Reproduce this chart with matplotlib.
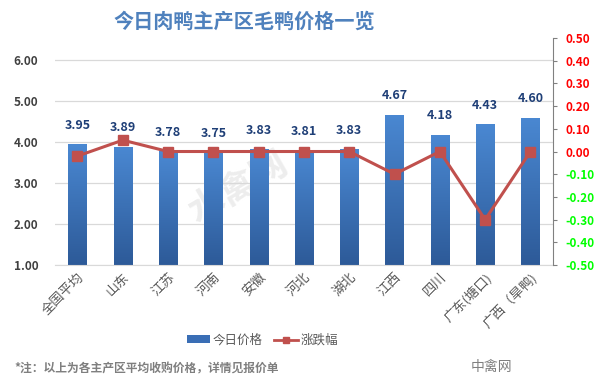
import matplotlib
matplotlib.use("Agg")
import matplotlib.pyplot as plt
import numpy as np
from matplotlib.colors import LinearSegmentedColormap
from matplotlib.patches import Patch
from matplotlib.lines import Line2D

plt.rcParams['font.family'] = ['Noto Sans CJK SC', 'DejaVu Sans']

categories = ['全国平均', '山东', '江苏', '河南', '安徽', '河北', '湖北', '江西', '四川', '广东(塘口)', '广西（旱鸭)']
prices = [3.95, 3.89, 3.78, 3.75, 3.83, 3.81, 3.83, 4.67, 4.18, 4.43, 4.60]
changes = [-0.02, 0.05, 0.00, 0.00, 0.00, 0.00, 0.00, -0.10, 0.00, -0.30, 0.00]
left_ticks = [1.0, 2.0, 3.0, 4.0, 5.0, 6.0]
right_ticks = [-0.5, -0.4, -0.3, -0.2, -0.1, 0.0, 0.1, 0.2, 0.3, 0.4, 0.5]

fig = plt.figure(figsize=(5.96, 3.92), dpi=100)

# faint watermark behind the chart
fig.text(0.40, 0.52, '水禽网', ha='center', va='center', fontsize=26, fontweight='bold',
         color='#EDEDED', rotation=30, zorder=-5)

ax = fig.add_axes([0.092, 0.324, 0.836, 0.579])
ax.patch.set_alpha(0)
ax2 = ax.twinx()

x = np.arange(len(categories))
bars = ax.bar(x, prices, width=0.4, color='#3A6EB5', zorder=2)
grad = np.linspace(0, 1, 256).reshape(-1, 1)
cmap = LinearSegmentedColormap.from_list('g', ['#2D5A98', '#4A88D2'])
for b in bars:
    bx, by = b.get_x(), b.get_y()
    w, h = b.get_width(), b.get_height()
    im = ax.imshow(grad, extent=[bx, bx + w, 1.0, by + h], origin='lower',
                   cmap=cmap, aspect='auto', zorder=2.1)
    im.set_clip_path(b)

for xi, p in zip(x, prices):
    ax.text(xi, p + 0.3, f'{p:.2f}', ha='center', va='bottom', fontsize=9,
            fontweight='bold', color='#1F3F77', zorder=5)

ax.set_xlim(-0.5, len(categories) - 0.5)
ax.set_ylim(1.0, 6.54)
ax.set_yticks(left_ticks)
ax.set_yticklabels([f'{t:.2f}' for t in left_ticks], fontsize=8.5, fontweight='bold', color='#404040')
ax.yaxis.grid(True, color='#D9D9D9', linewidth=0.9, zorder=0)
ax.set_axisbelow(True)
ax.tick_params(axis='y', length=0, pad=12)
ax.set_xticks(x)
ax.set_xticklabels(categories, rotation=45, ha='right', rotation_mode='anchor',
                   fontsize=9.5, color='#595959')
ax.tick_params(axis='x', length=0, pad=4)
for s in ['top', 'left', 'right']:
    ax.spines[s].set_visible(False)
ax.spines['bottom'].set_color('#D9D9D9')

ax2.plot(x, changes, color='#C0504D', linewidth=2.2, marker='s',
         markersize=7.5, markerfacecolor='#C0504D', markeredgecolor='#C0504D', zorder=4)
ax2.set_ylim(-0.5, 0.5)
ax2.set_yticks(right_ticks)
ax2.set_yticklabels([f'{t:.2f}' for t in right_ticks], fontsize=8.5, fontweight='bold')
for lab, t in zip(ax2.get_yticklabels(), right_ticks):
    lab.set_color('#FF0000' if t >= 0 else '#00FF00')
ax2.tick_params(axis='y', length=3, color='#808080', pad=6)
for s in ['top', 'left', 'bottom']:
    ax2.spines[s].set_visible(False)
ax2.spines['right'].set_color('#808080')

fig.text(0.41, 0.945, '今日肉鸭主产区毛鸭价格一览', ha='center', va='center',
         fontsize=14.5, fontweight='bold', color='#4F81BD')

handles = [Patch(facecolor='#3A6EB5'), Line2D([0], [0], color='#C0504D', linewidth=2, marker='s', markersize=5)]
fig.legend(handles, ['今日价格', '涨跌幅'], loc='center', bbox_to_anchor=(0.44, 0.132),
           ncol=2, frameon=False, fontsize=9, labelcolor='#595959',
           handlelength=1.9, handleheight=0.6, columnspacing=0.9, handletextpad=0.2)

fig.text(0.025, 0.058, '*注：以上为各主产区平均收购价格，详情见报价单', ha='left', va='center',
         fontsize=8.5, fontweight='bold', color='#7F7F7F')
fig.text(0.79, 0.065, '中禽网', ha='left', va='center', fontsize=10, color='#7F7F7F')

fig.savefig('out.png', dpi=100)
